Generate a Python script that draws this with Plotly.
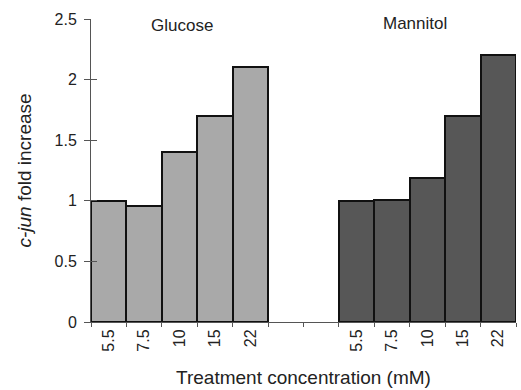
import plotly.graph_objects as go

concentrations = ["5.5", "7.5", "10", "15", "22"]
glucose = [1.0, 0.96, 1.4, 1.7, 2.1]
mannitol = [1.0, 1.01, 1.19, 1.7, 2.2]
group_names = ["Glucose", "Mannitol"]
y_ticks = [0, 0.5, 1, 1.5, 2, 2.5]
y_ticktext = ["0", "0.5", "1", "1.5", "2", "2.5"]

gap = 2
n = len(concentrations)
x_glu = list(range(n))
x_man = [n + gap + i for i in range(n)]

fig = go.Figure()
fig.add_trace(go.Bar(x=x_glu, y=glucose, width=1,
                     marker=dict(color="#a9a9a9", line=dict(color="#111111", width=2)),
                     showlegend=False))
fig.add_trace(go.Bar(x=x_man, y=mannitol, width=1,
                     marker=dict(color="#575757", line=dict(color="#111111", width=2)),
                     showlegend=False))
# invisible trace to carry the inside-tick overlay axis
fig.add_trace(go.Scatter(x=[x_glu[0]], y=[0], yaxis="y2", mode="markers",
                         marker=dict(opacity=0), showlegend=False, hoverinfo="skip"))

fig.add_annotation(x=2.07, y=2.45, text=group_names[0], showarrow=False,
                   font=dict(size=17, color="#222"), xref="x", yref="y")
fig.add_annotation(x=8.65, y=2.465, text=group_names[1], showarrow=False,
                   font=dict(size=17, color="#222"), xref="x", yref="y")

fig.update_layout(
    width=521, height=390,
    margin=dict(l=91, r=5, t=19, b=68),
    paper_bgcolor="white", plot_bgcolor="white",
    bargap=0,
    font=dict(family="Liberation Sans, Arial, sans-serif", color="#222"),
    xaxis=dict(
        range=[-0.5, 2 * n + gap - 0.5],
        tickvals=x_glu + x_man,
        ticktext=concentrations + concentrations,
        tickangle=-90,
        ticks="",
        tickfont=dict(size=16),
        showline=True, linecolor="#555", linewidth=1,
        showgrid=False, zeroline=False,
        minor=dict(tick0=-0.5, dtick=1, ticks="outside", ticklen=4,
                   tickcolor="#555", showgrid=False),
        title=dict(text="Treatment concentration (mM)", font=dict(size=19), standoff=20),
    ),
    yaxis=dict(
        range=[0, 2.5],
        tickvals=y_ticks,
        ticktext=y_ticktext,
        ticks="outside", ticklen=6, tickcolor="#555",
        tickfont=dict(size=16),
        ticklabelstandoff=4,
        showline=True, linecolor="#555", linewidth=1,
        showgrid=False, zeroline=False,
        title=dict(text="<i>c-jun</i> fold increase", font=dict(size=19), standoff=17),
    ),
    yaxis2=dict(
        range=[0, 2.5], overlaying="y", side="left",
        tickvals=y_ticks, ticks="inside", ticklen=6, tickcolor="#555",
        showticklabels=False, showline=False, showgrid=False, zeroline=False,
    ),
)

fig.write_html("out.html")
